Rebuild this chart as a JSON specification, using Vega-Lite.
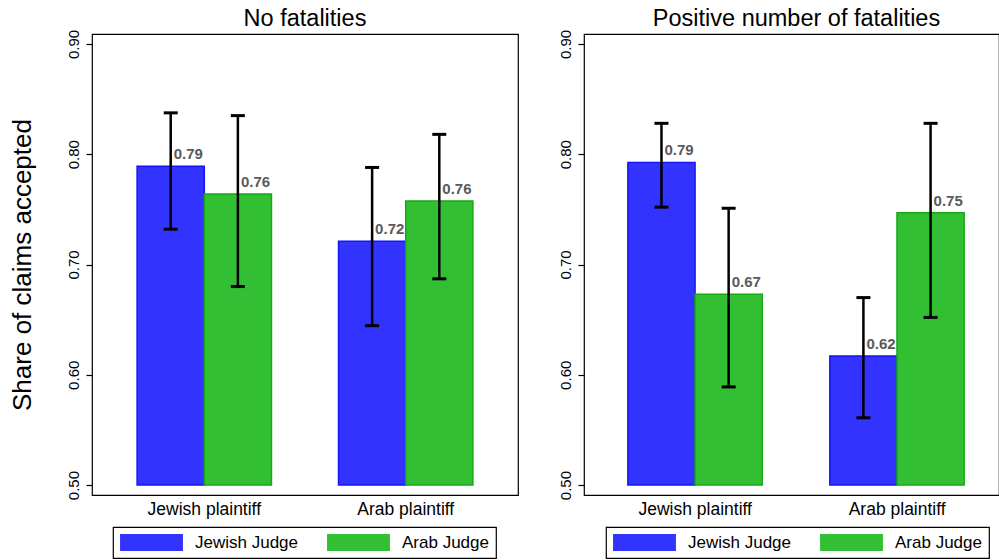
{
  "$schema": "https://vega.github.io/schema/vega-lite/v6.json",
  "padding": {"left": 8, "top": 6, "right": 0, "bottom": 0},
  "background": "white",
  "data": {"values": [
    {"panel": "No fatalities", "plaintiff": "Jewish plaintiff", "judge": "Jewish Judge", "share": 0.789, "lo": 0.732, "hi": 0.8375},
    {"panel": "No fatalities", "plaintiff": "Jewish plaintiff", "judge": "Arab Judge", "share": 0.764, "lo": 0.680, "hi": 0.835},
    {"panel": "No fatalities", "plaintiff": "Arab plaintiff", "judge": "Jewish Judge", "share": 0.721, "lo": 0.6445, "hi": 0.788},
    {"panel": "No fatalities", "plaintiff": "Arab plaintiff", "judge": "Arab Judge", "share": 0.7575, "lo": 0.687, "hi": 0.818},
    {"panel": "Positive number of fatalities", "plaintiff": "Jewish plaintiff", "judge": "Jewish Judge", "share": 0.7925, "lo": 0.752, "hi": 0.828},
    {"panel": "Positive number of fatalities", "plaintiff": "Jewish plaintiff", "judge": "Arab Judge", "share": 0.673, "lo": 0.589, "hi": 0.751},
    {"panel": "Positive number of fatalities", "plaintiff": "Arab plaintiff", "judge": "Jewish Judge", "share": 0.617, "lo": 0.561, "hi": 0.670},
    {"panel": "Positive number of fatalities", "plaintiff": "Arab plaintiff", "judge": "Arab Judge", "share": 0.747, "lo": 0.652, "hi": 0.828}
  ]},
  "spacing": 38,
  "resolve": {"scale": {"x": "independent"}, "legend": {"color": "independent"}},
  "hconcat": [
    {
      "width": 426,
      "height": 461,
      "title": {"text": "No fatalities", "anchor": "middle", "frame": "group"},
      "transform": [{"filter": "datum.panel == 'No fatalities'"}],
      "encoding": {
        "x": {"field": "plaintiff", "type": "nominal", "sort": ["Jewish plaintiff", "Arab plaintiff"],
              "scale": {"paddingInner": 0.333, "paddingOuter": 0.224},
              "axis": {"title": null, "labelAngle": 0, "ticks": false, "labelFontSize": 17.5, "labelPadding": 5}},
        "xOffset": {"field": "judge", "type": "nominal",
              "scale": {"domain": ["Jewish Judge", "Arab Judge"], "paddingInner": 0, "paddingOuter": 0}}
      },
      "layer": [
        {
          "transform": [{"filter": "datum.judge == 'Jewish Judge'"}],
          "mark": {"type": "bar", "stroke": "#1414f5", "strokeWidth": 1.5},
          "encoding": {
            "y": {"field": "share", "type": "quantitative", "title": "Share of claims accepted",
                  "scale": {"domain": [0.491, 0.909], "nice": false, "zero": false},
                  "axis": {"values": [0.5, 0.6, 0.7, 0.8, 0.9], "format": ".2f", "labelAngle": 270,
                           "labelAlign": "center", "labelBaseline": "bottom", "labelPadding": 5,
                           "tickSize": 6, "labelFontSize": 15,
                           "title": "Share of claims accepted", "titleFontSize": 26, "titlePadding": 31}},
            "y2": {"datum": 0.5},
            "color": {"field": "judge", "type": "nominal",
                      "scale": {"domain": ["Jewish Judge", "Arab Judge"], "range": ["#3333ff", "#33bf33"]},
                      "legend": {"title": null, "orient": "none", "legendX": 21, "legendY": 493}}
          }
        },
        {
          "transform": [{"filter": "datum.judge == 'Jewish Judge'"}],
          "mark": {"type": "text", "align": "left", "baseline": "bottom", "dx": 3, "dy": -4,
                   "fontWeight": "bold", "fontSize": 15, "color": "#5a5a5a"},
          "encoding": {
            "y": {"field": "share", "type": "quantitative", "title": "Share of claims accepted"},
            "text": {"field": "share", "type": "quantitative", "format": ".2f"}
          }
        },
        {
          "transform": [{"filter": "datum.judge == 'Arab Judge'"}],
          "mark": {"type": "bar", "stroke": "#14aa14", "strokeWidth": 1.5},
          "encoding": {
            "y": {"field": "share", "type": "quantitative", "title": "Share of claims accepted"},
            "y2": {"datum": 0.5},
            "color": {"field": "judge", "type": "nominal"}
          }
        },
        {
          "transform": [{"filter": "datum.judge == 'Arab Judge'"}],
          "mark": {"type": "text", "align": "left", "baseline": "bottom", "dx": 3, "dy": -4,
                   "fontWeight": "bold", "fontSize": 15, "color": "#5a5a5a"},
          "encoding": {
            "y": {"field": "share", "type": "quantitative", "title": "Share of claims accepted"},
            "text": {"field": "share", "type": "quantitative", "format": ".2f"}
          }
        },
        {
          "mark": {"type": "rule", "color": "black", "strokeWidth": 2.5},
          "encoding": {
            "y": {"field": "lo", "type": "quantitative", "title": "Share of claims accepted"},
            "y2": {"field": "hi"}
          }
        },
        {
          "mark": {"type": "tick", "color": "black", "thickness": 3, "size": 14, "opacity": 1},
          "encoding": {"y": {"field": "lo", "type": "quantitative", "title": "Share of claims accepted"}}
        },
        {
          "mark": {"type": "tick", "color": "black", "thickness": 3, "size": 14, "opacity": 1},
          "encoding": {"y": {"field": "hi", "type": "quantitative", "title": "Share of claims accepted"}}
        }
      ]
    },
    {
      "width": 415,
      "height": 461,
      "title": {"text": "Positive number of fatalities", "anchor": "middle", "frame": "group", "dx": 5},
      "transform": [{"filter": "datum.panel == 'Positive number of fatalities'"}],
      "encoding": {
        "x": {"field": "plaintiff", "type": "nominal", "sort": ["Jewish plaintiff", "Arab plaintiff"],
              "scale": {"paddingInner": 0.333, "paddingOuter": 0.194, "align": 0.56},
              "axis": {"title": null, "labelAngle": 0, "ticks": false, "labelFontSize": 17.5, "labelPadding": 5}},
        "xOffset": {"field": "judge", "type": "nominal",
              "scale": {"domain": ["Jewish Judge", "Arab Judge"], "paddingInner": 0, "paddingOuter": 0}}
      },
      "layer": [
        {
          "transform": [{"filter": "datum.judge == 'Jewish Judge'"}],
          "mark": {"type": "bar", "stroke": "#1414f5", "strokeWidth": 1.5},
          "encoding": {
            "y": {"field": "share", "type": "quantitative", "title": null,
                  "scale": {"domain": [0.491, 0.909], "nice": false, "zero": false},
                  "axis": {"values": [0.5, 0.6, 0.7, 0.8, 0.9], "format": ".2f", "labelAngle": 270,
                           "labelAlign": "center", "labelBaseline": "bottom", "labelPadding": 5,
                           "tickSize": 6, "labelFontSize": 15, "title": null}},
            "y2": {"datum": 0.5},
            "color": {"field": "judge", "type": "nominal",
                      "scale": {"domain": ["Jewish Judge", "Arab Judge"], "range": ["#3333ff", "#33bf33"]},
                      "legend": {"title": null, "orient": "none", "legendX": 22, "legendY": 493}}
          }
        },
        {
          "transform": [{"filter": "datum.judge == 'Jewish Judge'"}],
          "mark": {"type": "text", "align": "left", "baseline": "bottom", "dx": 3, "dy": -4,
                   "fontWeight": "bold", "fontSize": 15, "color": "#5a5a5a"},
          "encoding": {
            "y": {"field": "share", "type": "quantitative", "title": null},
            "text": {"field": "share", "type": "quantitative", "format": ".2f"}
          }
        },
        {
          "transform": [{"filter": "datum.judge == 'Arab Judge'"}],
          "mark": {"type": "bar", "stroke": "#14aa14", "strokeWidth": 1.5},
          "encoding": {
            "y": {"field": "share", "type": "quantitative", "title": null},
            "y2": {"datum": 0.5},
            "color": {"field": "judge", "type": "nominal"}
          }
        },
        {
          "transform": [{"filter": "datum.judge == 'Arab Judge'"}],
          "mark": {"type": "text", "align": "left", "baseline": "bottom", "dx": 3, "dy": -4,
                   "fontWeight": "bold", "fontSize": 15, "color": "#5a5a5a"},
          "encoding": {
            "y": {"field": "share", "type": "quantitative", "title": null},
            "text": {"field": "share", "type": "quantitative", "format": ".2f"}
          }
        },
        {
          "mark": {"type": "rule", "color": "black", "strokeWidth": 2.5},
          "encoding": {
            "y": {"field": "lo", "type": "quantitative", "title": null},
            "y2": {"field": "hi"}
          }
        },
        {
          "mark": {"type": "tick", "color": "black", "thickness": 3, "size": 14, "opacity": 1},
          "encoding": {"y": {"field": "lo", "type": "quantitative", "title": null}}
        },
        {
          "mark": {"type": "tick", "color": "black", "thickness": 3, "size": 14, "opacity": 1},
          "encoding": {"y": {"field": "hi", "type": "quantitative", "title": null}}
        }
      ]
    }
  ],
  "config": {
    "font": "Liberation Sans",
    "view": {"stroke": "black", "strokeWidth": 1.2},
    "axis": {"grid": false, "domain": false, "labelColor": "black", "tickColor": "black", "tickWidth": 1.2,
             "titleColor": "black", "titleFontWeight": "normal", "labelFont": "Liberation Sans", "titleFont": "Liberation Sans"},
    "title": {"fontSize": 23.5, "fontWeight": "normal", "color": "black", "offset": -1, "font": "Liberation Sans"},
    "legend": {"direction": "horizontal", "strokeColor": "black", "strokeWidth": 1.2,
               "padding": 7, "columnPadding": 28, "labelOffset": 35, "labelFontSize": 17,
               "labelColor": "black", "labelFont": "Liberation Sans",
               "symbolType": "M-3.7,-1L3.7,-1L3.7,1L-3.7,1Z", "symbolSize": 289, "symbolOffset": 23,
               "symbolStrokeWidth": 0, "symbolOpacity": 1}
  }
}
